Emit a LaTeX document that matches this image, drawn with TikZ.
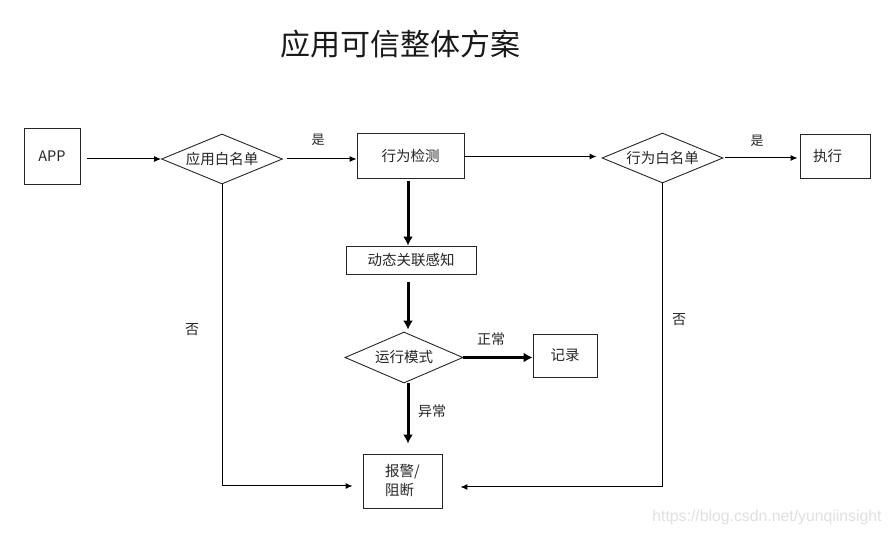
\documentclass[tikz,border=0pt]{standalone}
\usepackage{fontspec}
\setmainfont{Noto Sans CJK SC}
\newfontfamily\wmfont{Liberation Sans}
\usetikzlibrary{shapes.geometric,arrows.meta,calc}
\begin{document}
\begin{tikzpicture}[x=1pt,y=-1pt,
  box/.style={draw=black!85,line width=0.9pt,rectangle,inner sep=0pt,
    font=\fontsize{14.5}{19}\selectfont,text=black!85},
  dia/.style={draw=black!85,line width=0.9pt,diamond,aspect=2.4,inner sep=0pt,
    font=\fontsize{14.5}{19}\selectfont,text=black!85},
  thinarrow/.style={draw=black,line width=1pt,-{Latex[length=7pt,width=6pt]}},
  thickarrow/.style={draw=black,line width=3pt,-{Latex[length=9pt,width=10pt]}},
  lbl/.style={font=\fontsize{14}{16}\selectfont,text=black!85,inner sep=0pt},
  wm/.style={font=\wmfont\fontsize{15.8}{17}\selectfont,text=black!12,inner sep=0pt}]
\useasboundingbox (0,0) rectangle (892,534);
\fill[white] (0,0) rectangle (892,534);

\node[font=\fontsize{30}{34}\selectfont,text=black!90] (title) at (400,44) {应用可信整体方案};

\node[box,minimum width=56pt,minimum height=56pt] (app) at (52,156) {APP};
\node[dia,minimum width=121pt,minimum height=50pt] (d1) at (222,159) {应用白名单};
\node[box,minimum width=107pt,minimum height=45pt] (jc) at (410.5,155.5) {行为检测};
\node[dia,minimum width=121pt,minimum height=50pt] (d2) at (662.5,158) {行为白名单};
\node[box,minimum width=70pt,minimum height=44pt] (zx) at (835,156) {执行\hspace*{15pt}};
\node[box,minimum width=130pt,minimum height=28pt] (dt) at (411,260) {动态关联感知};
\node[dia,minimum width=118pt,minimum height=51pt] (d3) at (404,357.5) {运行模式};
\node[box,minimum width=64pt,minimum height=43pt] (jl) at (565,355.5) {记录};
\node[box,minimum width=79pt,minimum height=54pt,align=left] (bj) at (402.5,481) {报警/\\阻断};

\coordinate (vx) at (408,0);

\draw[thinarrow,shorten <=7pt] (d1.west -| app.east) -- (d1.west);
\draw[thinarrow,shorten <=4pt] (d1.east) -- (d1.east -| jc.west);
\draw[thinarrow,shorten >=5pt] ([yshift=-1pt]jc.east) -- ([yshift=-1pt]jc.east -| d2.west);
\draw[thinarrow,shorten <=2pt,shorten >=2pt] (d2.east) -- (d2.east -| zx.west);

\draw[thickarrow,shorten <=3pt] (jc.south -| vx) -- (dt.north -| vx);
\draw[thickarrow,shorten <=8pt,shorten >=2pt] (dt.south -| vx) -- (d3.north -| vx);
\draw[thickarrow] (d3.east) -- (d3.east -| jl.west);
\draw[thickarrow,shorten >=10pt] (d3.south -| vx) -- (bj.north -| vx);

\draw[thinarrow,shorten >=10pt] (d1.south) |- ([yshift=-5pt]bj.west);
\draw[thinarrow,shorten >=18pt] (d2.south) |- ([yshift=-6pt]bj.east);

\node[lbl,font=\fontsize{13}{15}\selectfont] (y1) at (318,140) {是};
\node[lbl,font=\fontsize{13}{15}\selectfont] (y2) at (757,141) {是};
\node[lbl] (n1) at (192,330) {否};
\node[lbl] (n2) at (679,320) {否};
\node[lbl] (zc) at (491,339) {正常};
\node[lbl] (yc) at (432,411) {异常};

\node[wm] (wmk) at (767,517) {https://blog.csdn.net/yunqiinsight};
\end{tikzpicture}
\end{document}
